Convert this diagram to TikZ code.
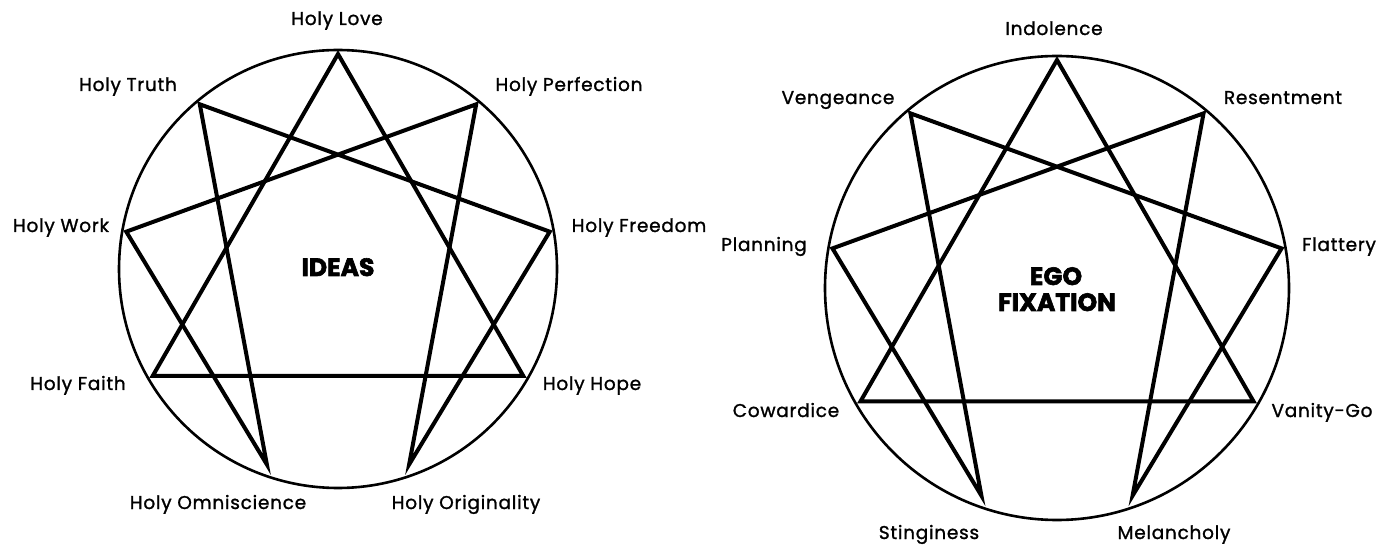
\documentclass[tikz,border=0pt]{standalone}
\usepackage{fontspec}
\setmainfont{Poppins}
\newfontfamily\lblfont{Poppins}[FakeBold=1.3, LetterSpace=4]
\newfontfamily\ttlfont{Poppins}[FakeBold=2.4]
\begin{document}
\begin{tikzpicture}[x=1pt,y=1pt,
  lbl/.style={font=\lblfont\fontsize{18.5}{20}\selectfont, anchor=base, inner sep=0pt},
  ttl/.style={font=\ttlfont\fontsize{25}{27}\selectfont\bfseries, anchor=base, inner sep=0pt},
  ring/.style={line width=2.6pt},
  star/.style={line width=4pt, line join=miter}]
\useasboundingbox (0,0) rectangle (1390,544);
% ---------- left enneagram ----------
\coordinate (LC) at (338,275);
\draw[ring] (LC) circle (219);
\coordinate (L9) at ([shift={(338,275)}]90:215);
\coordinate (L1) at ([shift={(338,275)}]50:215);
\coordinate (L2) at ([shift={(338,275)}]10:215);
\coordinate (L3) at ([shift={(338,275)}]-30:214);
\coordinate (L4) at ([shift={(338,275)}]-70:208);
\coordinate (L5) at ([shift={(338,275)}]-110:208);
\coordinate (L6) at ([shift={(338,275)}]-150:214);
\coordinate (L7) at ([shift={(338,275)}]170:215);
\coordinate (L8) at ([shift={(338,275)}]130:215);
\draw[star] (L9) -- (L3) -- (L6) -- cycle;
\draw[star] (L1) -- (L4) -- (L2) -- (L8) -- (L5) -- (L7) -- cycle;
\node[lbl] (tL9) at (337,519) {Holy Love};
\node[lbl] (tL8) at (128,453) {Holy Truth};
\node[lbl] (tL1) at (569,453) {Holy Perfection};
\node[lbl] (tL7) at (61,312) {Holy Work};
\node[lbl] (tL2) at (639,312) {Holy Freedom};
\node[lbl] (tL6) at (78,154) {Holy Faith};
\node[lbl] (tL3) at (592,154) {Holy Hope};
\node[lbl] (tL5) at (218,35) {Holy Omniscience};
\node[lbl] (tL4) at (466,35) {Holy Originality};
\node[ttl] (tLC) at (338,268) {IDEAS};
% ---------- right enneagram ----------
\coordinate (RC) at (1057,256);
\draw[ring] (RC) circle (232);
\coordinate (R9) at ([shift={(1057,256)}]90:228);
\coordinate (R1) at ([shift={(1057,256)}]50:228);
\coordinate (R2) at ([shift={(1057,256)}]10:228);
\coordinate (R3) at ([shift={(1057,256)}]-30:227);
\coordinate (R4) at ([shift={(1057,256)}]-70:221);
\coordinate (R5) at ([shift={(1057,256)}]-110:221);
\coordinate (R6) at ([shift={(1057,256)}]-150:227);
\coordinate (R7) at ([shift={(1057,256)}]170:228);
\coordinate (R8) at ([shift={(1057,256)}]130:228);
\draw[star] (R9) -- (R3) -- (R6) -- cycle;
\draw[star] (R1) -- (R4) -- (R2) -- (R8) -- (R5) -- (R7) -- cycle;
\node[lbl] (tR9) at (1054,509) {Indolence};
\node[lbl] (tR8) at (838,440) {Vengeance};
\node[lbl] (tR1) at (1283,440) {Resentment};
\node[lbl] (tR7) at (764,293) {Planning};
\node[lbl] (tR2) at (1339,293) {Flattery};
\node[lbl] (tR6) at (786,127) {Cowardice};
\node[lbl] (tR3) at (1322,127) {Vanity-Go};
\node[lbl] (tR5) at (929,5) {Stinginess};
\node[lbl] (tR4) at (1174,5) {Melancholy};
\node[ttl] (tRCa) at (1056,259) {EGO};
\node[ttl] (tRCb) at (1057,233) {FIXATION};
\end{tikzpicture}
\end{document}
